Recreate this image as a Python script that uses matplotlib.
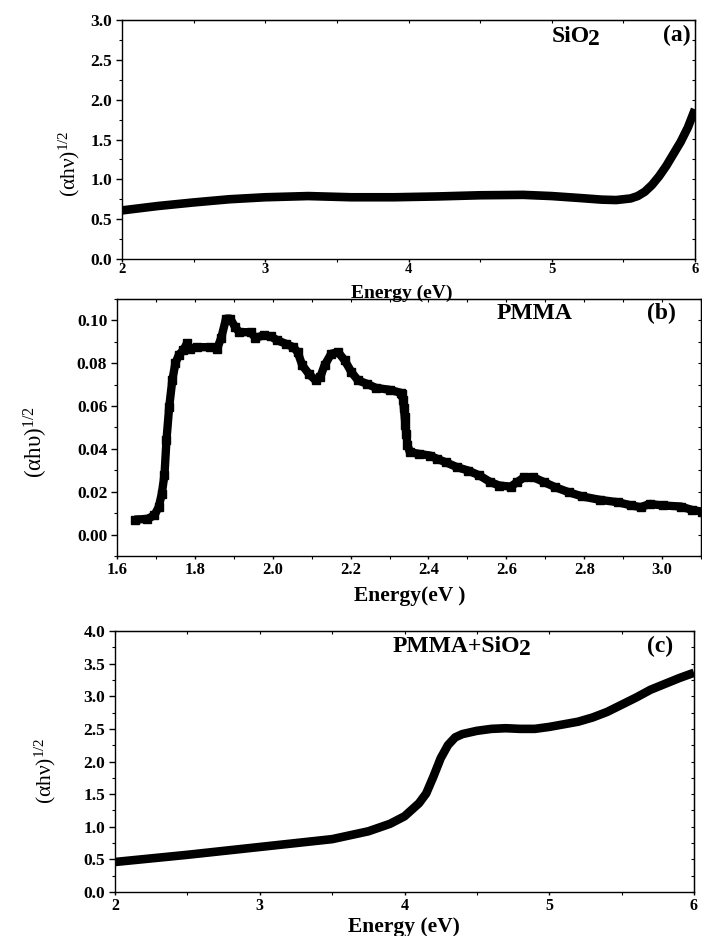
import matplotlib
matplotlib.use("Agg")
import matplotlib.pyplot as plt
from matplotlib.ticker import MultipleLocator, FormatStrFormatter

plt.rcParams['font.family'] = ['Liberation Serif', 'DejaVu Serif']
plt.rcParams['mathtext.fontset'] = 'custom'
plt.rcParams['mathtext.rm'] = 'Liberation Serif'
plt.rcParams['mathtext.it'] = 'Liberation Serif:italic'
plt.rcParams['mathtext.bf'] = 'Liberation Serif:bold'

# ---------------- data ----------------
# (a) SiO2
energy_a = [2.0, 2.25, 2.5, 2.75, 3.0, 3.3, 3.6, 3.9, 4.2, 4.5, 4.8, 5.0, 5.2,
            5.35, 5.45, 5.55, 5.6, 5.65, 5.7, 5.75, 5.8, 5.85, 5.9, 5.95, 6.0]
value_a = [0.61, 0.665, 0.71, 0.75, 0.775, 0.79, 0.775, 0.775, 0.785, 0.80, 0.805,
           0.79, 0.765, 0.745, 0.74, 0.76, 0.79, 0.845, 0.93, 1.04, 1.17, 1.32,
           1.47, 1.65, 1.88]

# (b) PMMA
energy_b = [1.645, 1.678, 1.696, 1.707, 1.715, 1.722, 1.727, 1.734, 1.742, 1.750,
            1.759, 1.770, 1.780, 1.788, 1.805, 1.840, 1.857, 1.868, 1.880, 1.891,
            1.903, 1.914, 1.943, 1.955, 1.978, 1.995, 2.012, 2.035, 2.053, 2.064,
            2.076, 2.093, 2.110, 2.122, 2.133, 2.150, 2.168, 2.185, 2.202, 2.219,
            2.242, 2.265, 2.300, 2.329, 2.333, 2.335, 2.337, 2.339, 2.341, 2.343,
            2.346, 2.352, 2.375, 2.404, 2.422, 2.444, 2.473, 2.502, 2.531, 2.559,
            2.582, 2.611, 2.628, 2.646, 2.669, 2.697, 2.726, 2.760, 2.795, 2.841,
            2.887, 2.921, 2.945, 2.968, 3.002, 3.048, 3.077, 3.103]
value_b = [0.0070, 0.0073, 0.0090, 0.0128, 0.0190, 0.0280, 0.0440, 0.0595, 0.0720,
           0.0800, 0.0840, 0.0860, 0.0894, 0.0868, 0.0875, 0.0875, 0.0868, 0.0920,
           0.1008, 0.1008, 0.0970, 0.0945, 0.0945, 0.0920, 0.0930, 0.0925, 0.0907,
           0.0890, 0.0875, 0.0852, 0.0790, 0.0750, 0.0720, 0.0735, 0.0790, 0.0844,
           0.0852, 0.0813, 0.0759, 0.0720, 0.0704, 0.0685, 0.0676, 0.0662, 0.0655,
           0.0630, 0.0590, 0.0550, 0.0510, 0.0470, 0.0420, 0.0385, 0.0377, 0.0369,
           0.0354, 0.0338, 0.0315, 0.0299, 0.0276, 0.0245, 0.0229, 0.0224, 0.0245,
           0.0268, 0.0268, 0.0245, 0.0221, 0.0198, 0.0178, 0.0162, 0.0151, 0.0136,
           0.0128, 0.0143, 0.0136, 0.0131, 0.0115, 0.0107]

# (c) PMMA+SiO2
energy_c = [2.0, 2.5, 3.0, 3.5, 3.75, 3.9, 4.0, 4.1, 4.15, 4.2, 4.25, 4.3, 4.35,
            4.4, 4.5, 4.6, 4.7, 4.8, 4.9, 5.0, 5.1, 5.2, 5.3, 5.4, 5.5, 5.6, 5.7,
            5.8, 5.9, 6.0]
value_c = [0.46, 0.57, 0.69, 0.81, 0.93, 1.045, 1.16, 1.36, 1.51, 1.77, 2.05, 2.25,
           2.37, 2.42, 2.47, 2.50, 2.51, 2.50, 2.50, 2.53, 2.57, 2.61, 2.675, 2.76,
           2.87, 2.98, 3.10, 3.19, 3.28, 3.36]

# ---------------- figure ----------------
W, H = 702, 936
fig = plt.figure(figsize=(W / 100, H / 100), dpi=100)


def px_axes(left, right, top, bottom):
    ax = fig.add_axes([left / W, 1 - bottom / H, (right - left) / W, (bottom - top) / H])
    ax.set_facecolor('none')
    return ax


ax_a = px_axes(122, 695, 20, 259)
ax_b = px_axes(117, 701, 299, 556)
ax_c = px_axes(115, 694, 631, 892)

YTICK_FS = 12.5
ANNOT_FS = 17


def style(ax, xmaj, xmin, ymaj, ymin, xfmt, yfmt, xtick_fs, xpad):
    ax.xaxis.set_major_locator(MultipleLocator(xmaj))
    ax.xaxis.set_minor_locator(MultipleLocator(xmin))
    ax.yaxis.set_major_locator(MultipleLocator(ymaj))
    ax.yaxis.set_minor_locator(MultipleLocator(ymin))
    ax.xaxis.set_major_formatter(FormatStrFormatter(xfmt))
    ax.yaxis.set_major_formatter(FormatStrFormatter(yfmt))
    ax.tick_params(axis='y', which='major', direction='out', length=4, width=1.0,
                   labelsize=YTICK_FS, pad=3)
    ax.tick_params(axis='y', which='minor', direction='out', length=2.5, width=0.8)
    ax.tick_params(axis='x', which='major', direction='out', length=2.5, width=1.0,
                   labelsize=xtick_fs, pad=xpad)
    ax.tick_params(axis='x', which='minor', direction='out', length=2.0, width=0.8)
    for lab in ax.get_xticklabels() + ax.get_yticklabels():
        lab.set_fontweight('bold')
    for sp in ax.spines.values():
        sp.set_linewidth(1.0)
    # small inward ticks on top and right
    sx = ax.secondary_xaxis('top')
    sx.xaxis.set_major_locator(MultipleLocator(xmin))
    sx.tick_params(direction='in', length=2.5, width=0.8, labeltop=False)
    sy = ax.secondary_yaxis('right')
    sy.yaxis.set_major_locator(MultipleLocator(ymin))
    sy.tick_params(direction='in', length=2.5, width=0.8, labelright=False)


def set_ylabel_px(ax, text, x_px, y_px, fs):
    ax.set_ylabel(text, fontsize=fs, fontweight='normal')
    ax.yaxis.set_label_coords(x_px / W, 1 - y_px / H, transform=fig.transFigure)


def set_xlabel_px(ax, text, x_px, y_px, fs):
    # y_px is the text baseline
    ax.set_xlabel(text, fontsize=fs, fontweight='bold')
    ax.xaxis.label.set_va('baseline')
    ax.xaxis.set_label_coords(x_px / W, 1 - y_px / H, transform=fig.transFigure)


def label_with_sub(ax, x, y, main, sub, fs):
    t = ax.text(x, y, main, fontsize=fs, fontweight='bold', ha='left', va='baseline')
    ax.annotate(sub, xy=(1, 0), xycoords=t, xytext=(-1.0, -2.5),
                textcoords='offset points', fontsize=fs, fontweight='bold',
                ha='left', va='bottom')
    return t


# (a)
ax_a.plot(energy_a, value_a, color='black', lw=6.2, solid_capstyle='butt')
ax_a.set_xlim(2, 6)
ax_a.set_ylim(0, 3.0)
style(ax_a, 1, 0.5, 0.5, 0.25, '%d', '%.1f', 10.5, 0.7)
set_xlabel_px(ax_a, 'Energy (eV)', 402, 298, 14)
set_ylabel_px(ax_a, '(αhν)$^{1/2}$', 82, 164, 15.5)
label_with_sub(ax_a, 5.0, 2.73, 'SiO', '2', ANNOT_FS)
ax_a.text(5.97, 2.73, '(a)', fontsize=ANNOT_FS, fontweight='bold', ha='right', va='baseline')

# (b)
ax_b.plot(energy_b, value_b, color='black', lw=6.0, marker='s', ms=6.0,
          solid_capstyle='butt')
ax_b.set_xlim(1.6, 3.1)
ax_b.set_ylim(-0.01, 0.11)
style(ax_b, 0.2, 0.1, 0.02, 0.01, '%.1f', '%.2f', 12, 2)
set_xlabel_px(ax_b, 'Energy(eV )', 410, 601, 15.5)
set_ylabel_px(ax_b, '(αhυ)$^{1/2}$', 50, 442, 16.5)
ax_b.text(2.576, 0.1005, 'PMMA', fontsize=ANNOT_FS, fontweight='bold', ha='left', va='baseline')
ax_b.text(3.035, 0.1005, '(b)', fontsize=ANNOT_FS, fontweight='bold', ha='right', va='baseline')

# (c)
ax_c.plot(energy_c, value_c, color='black', lw=6.2, solid_capstyle='butt')
ax_c.set_xlim(2, 6)
ax_c.set_ylim(0, 4.0)
style(ax_c, 1, 0.5, 0.5, 0.25, '%d', '%.1f', 11.5, 2)
set_xlabel_px(ax_c, 'Energy (eV)', 404, 932, 15.5)
set_ylabel_px(ax_c, '(αhν)$^{1/2}$', 58, 771, 15.5)
label_with_sub(ax_c, 3.92, 3.68, 'PMMA+SiO', '2', ANNOT_FS)
ax_c.text(5.855, 3.68, '(c)', fontsize=ANNOT_FS, fontweight='bold', ha='right', va='baseline')

fig.savefig('out.png', dpi=100)
